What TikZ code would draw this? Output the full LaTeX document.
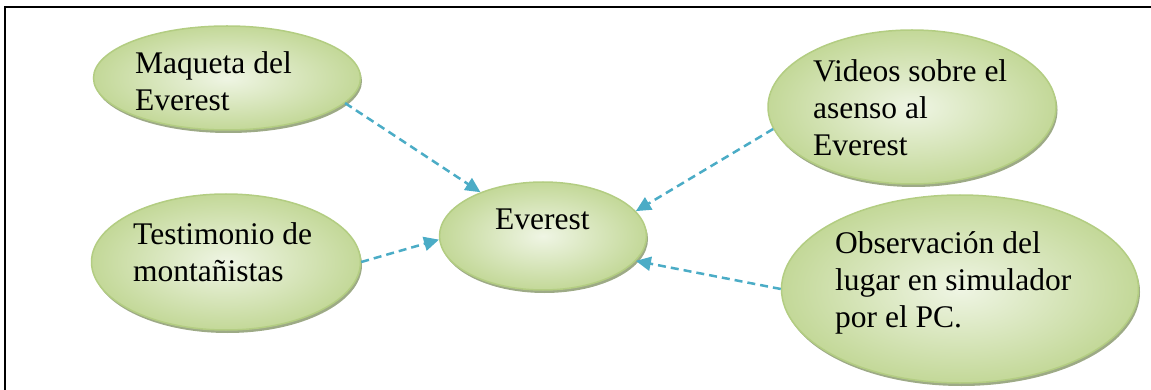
\documentclass[tikz,border=0pt]{standalone}
\usepackage{fontspec}
\setmainfont{Liberation Serif}
\usepackage{xcolor}
\usetikzlibrary{shapes.geometric,arrows.meta,shadows}
\definecolor{bubbleIn}{HTML}{EFF5E4}
\definecolor{bubbleOut}{HTML}{C3D898}
\definecolor{bubbleLine}{HTML}{B3CD82}
\definecolor{bubbleShadow}{HTML}{9DAA86}
\definecolor{linkBlue}{HTML}{4BACC6}

\begin{document}
\begin{tikzpicture}[x=1pt,y=-1pt,
          bubble/.style={ellipse,draw=bubbleLine,line width=1.5pt,inner color=bubbleIn,outer color=bubbleOut,
            drop shadow={shadow xshift=1.5pt,shadow yshift=-3pt,fill=bubbleShadow,opacity=1}},
          txt/.style={anchor=north west,inner sep=0pt,align=left,font=\fontsize{31.5}{37}\selectfont},
          link/.style={draw=linkBlue,line width=2.5pt,dash pattern=on 8pt off 5pt,
            -{Triangle[length=15pt,width=14pt,fill=linkBlue]}}
        ]
        \useasboundingbox (0,0) rectangle (1151,390);
        \draw [line width=2.5pt] (5,390) -- (5,7) -- (1151,7);
        % ellipses
        \node [bubble,minimum width=267pt,minimum height=104pt] (maqueta) at (227,78) {};
        \node [bubble,minimum width=269pt,minimum height=136pt] (testimonio) at (226,262) {};
        \node [bubble,minimum width=207pt,minimum height=108pt] (everest) at (543,236) {};
        \node [bubble,minimum width=288pt,minimum height=154pt] (videos) at (912,107) {};
        \node [bubble,minimum width=357pt,minimum height=188pt] (observacion) at (960,289) {};
        % texts
        \node [txt] (tmaqueta) at (135,51) {Maqueta del\\Everest};
        \node [txt] (ttestimonio) at (133,222) {Testimonio de\\montañistas};
        \node [txt] (teverest) at (495,209) {Everest};
        \node [txt] (tvideos) at (813,59) {Videos sobre el\\asenso al\\Everest};
        \node [txt] (tobservacion) at (835,231) {Observación del\\lugar en simulador\\por el PC.};
        % arrows
        \draw [link] (maqueta.-12) -- (everest.145);
        \draw [link] (testimonio.east) -- (everest.182);
        \draw [link] (videos.189) -- (everest.15);
        \draw [link] (observacion.west) -- (everest.-15);
    \end{tikzpicture}
\end{document}
